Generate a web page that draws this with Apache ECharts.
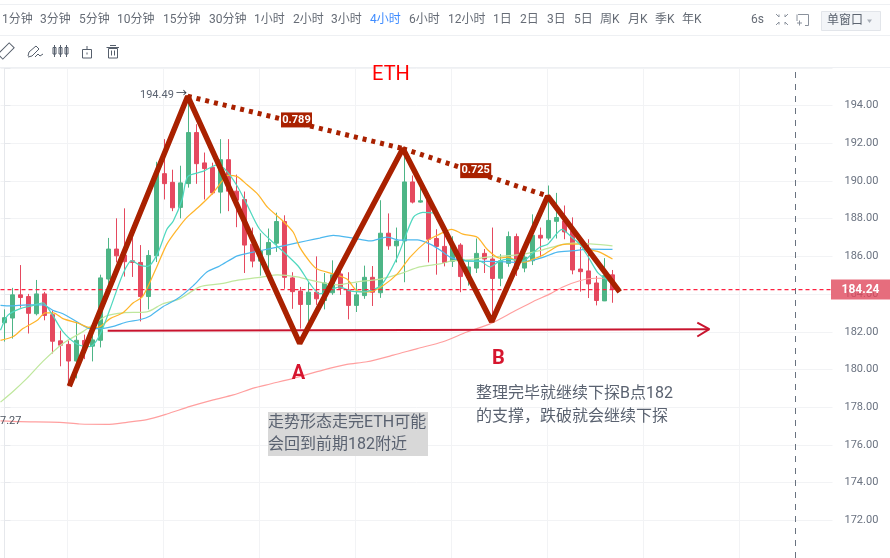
<!DOCTYPE html>
<html>
<head>
<meta charset="utf-8">
<style>html,body{margin:0;padding:0;background:#fff;overflow:hidden}#c{width:890px;height:558px}</style>
<script src="https://cdn.jsdelivr.net/npm/echarts@6/dist/echarts.min.js"></script>
</head>
<body>
<div id="c"></div>
<script>
// candles: [open, close, low, high]
const candles = [
[182.48,182.75,181.48,183.19],[182.73,183.96,181.64,184.33],[183.96,183.82,183.28,185.54],[183.87,182.98,181.91,184.01],
[182.96,184.01,182.87,184.75],[184.01,182.87,182.61,184.12],[182.91,181.50,180.85,183.13],[181.52,181.29,180.17,182.06],
[181.33,180.45,179.11,181.54],[180.45,181.55,179.53,182.55],[181.54,181.11,180.55,181.85],[181.24,181.57,180.43,182.33],
[181.55,184.86,181.17,185.03],[184.80,186.39,184.54,186.98],[186.39,186.03,185.68,188.02],[186.07,185.72,184.93,188.55],
[185.77,185.68,184.91,187.07],[185.68,183.87,182.55,186.60],[183.87,186.05,183.19,186.33],[186.03,190.39,185.70,191.02],
[190.39,189.86,189.02,192.22],[189.93,188.58,188.40,190.60],[188.60,189.90,188.02,190.81],[189.86,192.57,189.65,194.49],
[192.57,190.92,189.85,193.01],[190.96,190.66,189.02,191.51],[190.72,189.37,189.28,190.97],[189.41,191.13,188.28,192.22],
[191.13,189.46,188.40,192.22],[189.46,188.98,187.55,190.34],[189.02,186.60,185.12,189.44],[186.65,185.75,185.42,187.53],
[185.75,186.28,184.98,187.23],[186.09,186.74,184.71,187.48],[186.70,187.85,186.24,188.32],[187.85,184.89,184.28,188.18],
[184.86,184.13,183.22,185.16],[184.16,183.45,182.17,184.38],[183.45,184.10,182.54,184.63],[184.10,183.75,183.43,186.00],
[183.66,184.59,183.19,185.12],[184.07,185.02,183.96,185.79],[185.07,184.31,183.96,185.59],[184.22,183.40,182.66,185.16],
[183.40,183.96,183.05,184.59],[183.92,184.89,183.75,185.51],[184.89,184.10,183.37,185.49],[184.07,187.23,183.80,188.98],
[187.23,186.56,186.35,188.28],[186.56,186.82,185.68,187.53],[186.82,189.95,184.63,191.57],[189.95,188.88,188.81,190.29],
[188.88,188.95,188.85,189.92],[188.97,186.91,185.68,189.18],[186.95,186.53,185.03,187.44],[186.53,185.68,185.47,187.28],
[185.74,186.56,185.44,187.07],[186.60,184.93,184.10,186.70],[184.89,185.44,184.45,185.77],[185.38,186.16,185.12,186.95],
[186.16,185.86,185.12,186.39],[185.86,184.83,182.48,187.53],[184.84,185.77,184.42,186.12],[185.63,187.05,185.45,187.32],
[187.05,185.33,184.96,187.21],[185.38,185.96,185.16,186.23],[185.77,187.12,185.54,188.23],[187.12,186.97,185.95,187.53],
[186.97,187.91,186.86,189.76],[187.86,188.06,186.95,189.37],[187.88,187.30,186.91,188.70],[187.35,185.28,185.05,188.07],
[185.33,185.19,184.13,186.49],[185.23,184.54,183.79,186.91],[184.59,183.66,183.40,184.96],[183.64,184.98,183.63,185.91],
[185.02,184.24,183.54,185.28]
];
// bar numbers along the time axis, including the empty space to the right of the last bar
const categories = Array.from({length:104},(_,i)=>String(i));

const maFast = [[-0.5,182.08],[0.4,182.87],[1.9,183.22],[3.6,183.40],[4.8,183.54],[5.9,182.96],[7.3,182.01],[9.1,181.34],[10.7,181.22],[11.9,181.82],[13.2,183.22],[14.8,185.07],[15.9,185.77],[16.9,185.54],[17.9,185.47],[19.1,186.12],[20.3,187.44],[21.1,187.88],[22.2,189.02],[22.9,190.23],[24.8,190.51],[26.7,190.87],[27.8,190.51],[29.1,189.72],[30.3,188.76],[31.9,187.44],[34.1,186.54],[36.7,185.49],[38.2,184.54],[39.4,184.01],[41.1,184.28],[41.9,184.38],[43.2,184.17],[44.8,184.12],[47,184.44],[49.1,185.96],[51.1,188.07],[52.3,188.34],[54.1,188.23],[55.3,187.33],[56.9,186.02],[57.8,185.75],[59.4,185.75],[60.7,185.44],[61.9,185.75],[62.9,185.86],[64.8,185.75],[65.9,186.12],[66.9,186.49],[67.9,186.65],[69.7,187.44],[70.9,187.02],[71.9,186.65],[72.9,186.02],[74.1,185.17],[74.8,184.91],[76,184.54]];
const maOrange = [[-0.5,181.55],[1.1,181.75],[2.3,182.17],[4.1,182.61],[5.1,183.01],[6.1,183.01],[7.3,182.70],[9.1,182.47],[10.7,182.22],[11.9,182.27],[13.2,182.70],[14.8,183.01],[16.1,183.54],[17.2,183.84],[17.9,184.38],[19.1,185.51],[20.3,186.65],[21.6,187.44],[22.8,188.07],[24.4,188.67],[26.1,189.39],[27.2,189.99],[27.9,190.30],[29.1,190.23],[30.3,189.81],[31.7,189.28],[32.9,188.60],[34.8,187.88],[36.1,187.28],[36.9,186.49],[38.2,185.70],[39.1,185.33],[41.1,185.07],[42.8,184.80],[44.1,184.17],[45.7,184.12],[47.3,184.44],[49.1,185.07],[50.7,185.96],[52.8,186.81],[54.1,187.12],[55.9,187.44],[57.3,187.18],[59.1,187.02],[60.3,186.39],[61.9,185.91],[62.9,185.96],[64.1,185.75],[65.1,185.70],[66.1,185.86],[67.3,186.07],[69.1,186.54],[70.3,186.65],[71.9,186.65],[72.9,186.39],[74.4,186.23],[76,185.86]];
const maBlue = [[-0.5,183.40],[0.7,183.37],[2.8,183.43],[4.8,183.43],[6.1,183.13],[7.3,182.96],[9.1,182.52],[10.7,182.17],[11.9,182.17],[13.6,182.29],[15.3,182.52],[16.9,182.64],[18.2,182.84],[19.8,183.33],[21.6,183.75],[23.6,184.45],[25.3,185.17],[26.9,185.49],[29.1,186.03],[31.1,186.23],[33.2,186.41],[35.3,186.60],[37.8,186.83],[39.4,186.97],[41.1,187.12],[43.6,186.97],[45.7,186.82],[47.8,187.02],[49.4,186.86],[51.6,186.88],[53.2,186.65],[54.4,186.35],[55.7,185.96],[57.3,185.77],[61.9,185.72],[64.1,185.68],[65.7,185.77],[67.3,185.95],[69.1,186.23],[71.1,186.30],[73.2,186.39],[76,186.37]];
const maGreen = [[-0.5,178.27],[1.1,178.85],[2.8,179.53],[4.8,180.43],[7.3,181.38],[9.8,182.01],[11.6,182.54],[12.8,182.85],[14.8,183.01],[17.8,183.06],[19.8,183.49],[21.9,183.75],[24.4,184.38],[26.9,184.54],[29.4,184.75],[32.3,184.91],[34.1,185.02],[36.6,184.91],[39.1,184.66],[41.6,184.49],[44.1,184.65],[47,184.80],[49.4,185.07],[51.9,185.44],[54.4,185.60],[56.1,185.77],[57.8,185.81],[60.3,185.96],[61.9,186.00],[64.8,186.12],[67.3,186.35],[69.4,186.60],[71.1,186.70],[73.6,186.65],[76,186.56]];
const maPink = [[-0.5,177.27],[1.9,177.23],[6.9,177.20],[9.4,177.11],[12.8,177.09],[15.3,177.20],[17.8,177.34],[20.3,177.64],[23.2,178.04],[26.1,178.39],[28.6,178.65],[31.1,179.01],[33.2,179.23],[36.1,179.53],[39.8,179.97],[42.8,180.27],[45.3,180.41],[48.6,180.76],[51.6,181.11],[54.8,181.47],[57.8,181.99],[60.9,182.46],[63.6,183.06],[66.1,183.61],[68.2,184.01],[69.8,184.38],[71.9,184.71],[73.8,184.84],[76,184.84]];

const zigzag = [[8.1,179.11],[22.9,194.50],[36.9,181.38],[49.8,191.72],[60.9,182.54],[67.9,189.20],[76.9,184.12]];
const trendA = [[22.9,194.50],[49.8,191.72]];
const trendB = [[49.8,191.72],[67.9,189.20]];
const ratioValues = [[36.5,193.24,'0.789'],[58.9,190.55,'0.725']];
const supportLine = [[12.9,182.06],[88.1,182.14]];
const supportHead = [[86.6,182.49],[88.1,182.14],[86.6,181.75]];

const lastPrice = 184.24;
const priceLine = [[-0.5,184.24],[103.5,184.24]];
const crosshairBar = 98.85;
const gridBars = [7.9,19.9,31.9,43.9,55.9,67.9,79.9,91.9];
const yTickMin = 172, yTickMax = 194;

const periods = ['1分钟','3分钟','5分钟','10分钟','15分钟','30分钟','1小时','2小时','3小时','4小时','6小时','12小时','1日','2日','3日','5日','周K','月K','季K','年K','6s'];
const periodX = [2,40,79,117,163,209,254,293,331,370,409,448,493,520,547,574,600,628,655,682,751];
const activePeriod = '4小时';

const TEXT = '#666c76', RULE = '#eef0f3', DARK = '#a92100';
const FONT = 'Roboto, "Noto Sans CJK SC", sans-serif';
const icon = '#565f6c';

const graphic = [];
const addLine = (x1,y1,x2,y2,stroke,w) => graphic.push({type:'line',silent:true,z:50,shape:{x1,y1,x2,y2},style:{stroke:stroke,lineWidth:w||1,fill:null}});
const addRect = (x,y,width,height,stroke,fill) => graphic.push({type:'rect',silent:true,z:50,shape:{x,y,width,height},style:{stroke:stroke||null,fill:fill||null,lineWidth:1}});
const addText = (x,y,text,opt) => graphic.push({type:'text',silent:true,z:60,x,y,style:Object.assign({text,font:'12px '+FONT,fill:TEXT,textVerticalAlign:'middle',verticalAlign:'middle'},opt||{})});

addLine(0,4.5,890,4.5,RULE);
addLine(0,35.5,890,35.5,RULE);
addLine(0,67.5,890,67.5,RULE);
periods.forEach((p,i)=>addText(periodX[i],19.5,p,{fill:p===activePeriod?'#3f8cff':TEXT}));

// toolbar icons
graphic.push({type:'rect',silent:true,z:50,x:6,y:51,rotation:Math.PI/4,originX:0,originY:0,shape:{x:-8,y:-3.5,width:16,height:7},style:{stroke:icon,fill:null}});
graphic.push({type:'polyline',silent:true,z:50,shape:{points:[[28,56],[29,52],[36,46],[39,49],[32,56],[28,57]]},style:{stroke:icon,fill:null}});
graphic.push({type:'polyline',silent:true,z:50,shape:{points:[[35,57],[38,54],[40,56],[43,54]]},style:{stroke:icon,fill:null}});
[54.5,60.5,66.5].forEach(x=>{addRect(x-1.5,47.5,3,6.5,icon);addLine(x,45,x,57,icon);});
addRect(82.5,49.5,9,8.5,icon);addLine(87,46,87,50,icon);addLine(87,52.5,87,54.5,icon);
addRect(108.5,48.5,9,9.5,icon);addLine(106.5,47.5,119,47.5,icon);addLine(110,45.5,116,45.5,icon);addLine(111.5,50.5,111.5,55.5,icon);addLine(114.5,50.5,114.5,55.5,icon);
// window icons
const ic2='#8a919c';
[[776,14,1,1],[788,14,-1,1],[776,25,1,-1],[788,25,-1,-1]].forEach(a=>{addLine(a[0],a[1],a[0]+a[2]*3,a[1]+a[3]*3,ic2);addLine(a[0]+a[2]*3,a[1]+a[3]*3,a[0]+a[2]*3,a[1]+a[3]*0.5,ic2);});
graphic.push({type:'polyline',silent:true,z:50,shape:{points:[[798,14.5],[808.5,14.5],[808.5,25.5],[805,25.5]]},style:{stroke:ic2,fill:null}});
addLine(797,21,797,14.5,ic2);addLine(797,23,802,23,ic2);addLine(799.5,20.5,799.5,25.5,ic2);
addRect(821.5,11.5,59,19,'#e2e5ea','#f3f5f8');
addText(827,21,'单窗口',{fill:'#5c6470'});
graphic.push({type:'polygon',silent:true,z:60,shape:{points:[[867,19.5],[872,19.5],[869.5,23]]},style:{fill:'#a9afb8'}});

// annotations
addText(391,75,'ETH',{font:'20px '+FONT,fill:'#ff0000',textAlign:'center',align:'center'});
addText(298.5,374,'A',{font:'bold 20px '+FONT,fill:'#d6152e',textAlign:'center',align:'center'});
addText(498.5,359,'B',{font:'bold 20px '+FONT,fill:'#d6152e',textAlign:'center',align:'center'});
addText(140,95,'194.49',{fill:'#5a6270',font:'11px '+FONT});
addText(176,94.5,'→',{fill:'#2f3845',font:'11px '+FONT});
addText(0,421,'7.27',{fill:'#4d5560',font:'11px '+FONT});
addRect(268,412,160,44,null,'#d8d8d8');
const anno = '#5a6270', annoFont = '16px '+FONT;
addText(268,422.5,'走势形态走完ETH可能',{font:annoFont,fill:anno});
addText(268,445,'会回到前期182附近',{font:annoFont,fill:anno});
addText(476,393.5,'整理完毕就继续下探B点182',{font:annoFont,fill:anno});
addText(476,416.5,'的支撑，跌破就会继续下探',{font:annoFont,fill:anno});

const maSeries = (name,data,color,w) => ({name,type:'line',xAxisIndex:1,data,showSymbol:false,smooth:0.25,z:3,silent:true,lineStyle:{color,width:w||1.25}});

const option = {
  animation:false,
  backgroundColor:'#ffffff',
  grid:{left:0.5,top:67.9,width:832,height:493.3,show:false},
  xAxis:[
    {type:'category',data:categories,boundaryGap:true,show:false},
    {type:'value',min:-0.5,max:103.5,show:false}
  ],
  yAxis:{
    type:'value',position:'right',min:170,max:196,interval:2,scale:true,
    axisLine:{show:true,lineStyle:{color:'#e6e8ec'}},
    axisTick:{show:true,length:6,lineStyle:{color:'#e6e8ec'}},
    splitLine:{show:true,lineStyle:{color:'#f2f3f5',width:1}},
    axisLabel:{margin:12,color:'#6a7280',fontSize:11,fontFamily:'Roboto',
      formatter:v=>(v>=yTickMin&&v<=yTickMax)?v.toFixed(2):''}
  },
  graphic:graphic,
  series:[
    {name:'gridlines',type:'line',xAxisIndex:1,data:[],z:0,silent:true,
      markLine:{silent:true,symbol:'none',z:0,label:{show:false},
        lineStyle:{color:'#f2f3f5',type:'solid',width:1},
        data:gridBars.map(b=>({xAxis:b}))}},
    {name:'ETH',type:'candlestick',data:candles,barWidth:5,z:2,silent:true,
      itemStyle:{color:'#4db586',color0:'#e5495f',borderColor:'#4db586',borderColor0:'#e5495f',borderWidth:1}},
    maSeries('maPink',maPink,'#ff9f9f',1.2),
    maSeries('maGreen',maGreen,'#bfe79d'),
    maSeries('maBlue',maBlue,'#4db8ee'),
    maSeries('maOrange',maOrange,'#ffb52b'),
    maSeries('maFast',maFast,'#4fd8bf'),
    {name:'crosshair',type:'line',xAxisIndex:1,data:[],z:4,silent:true,
      markLine:{silent:true,symbol:'none',z:4,label:{show:false},
        lineStyle:{color:'#69727f',type:[6,6],width:1},
        data:[{xAxis:crosshairBar}]}},
    {name:'price',type:'line',xAxisIndex:1,data:priceLine,showSymbol:false,z:4,silent:true,
      itemStyle:{color:'#ff2040'},
      lineStyle:{color:'#ff2040',width:1.4,type:[4,3]},
      markLine:{silent:true,symbol:'none',z:6,
        lineStyle:{color:'rgba(0,0,0,0)',width:1},
        label:{show:true,position:'end',distance:28,formatter:()=>lastPrice.toFixed(2),
          color:'#fff',fontWeight:'bold',fontSize:12,fontFamily:'Roboto',
          backgroundColor:'rgba(224,72,92,0.8)',width:59,height:20,lineHeight:20,align:'center'},
        data:[{yAxis:lastPrice}]}},
    {name:'support',type:'line',xAxisIndex:1,data:supportLine,showSymbol:false,z:5,silent:true,lineStyle:{color:'#c8142e',width:2}},
    {name:'supportHead',type:'line',xAxisIndex:1,data:supportHead,showSymbol:false,z:5,silent:true,lineStyle:{color:'#c8142e',width:2}},
    {name:'trendA',type:'line',xAxisIndex:1,data:trendA,showSymbol:false,z:5,silent:true,lineStyle:{color:DARK,width:5,type:[4,5]}},
    {name:'trendB',type:'line',xAxisIndex:1,data:trendB,showSymbol:false,z:5,silent:true,lineStyle:{color:DARK,width:5,type:[4,5]}},
    {name:'zigzag',type:'line',xAxisIndex:1,data:zigzag,showSymbol:false,z:6,silent:true,lineStyle:{color:DARK,width:5.5,join:'bevel',cap:'butt'}},
    {name:'ratios',type:'scatter',xAxisIndex:1,data:ratioValues,symbol:'rect',symbolSize:[31,15],z:7,silent:true,
      itemStyle:{color:DARK,opacity:1},
      label:{show:true,position:'inside',color:'#fff',fontWeight:'bold',fontSize:11,fontFamily:'Roboto',formatter:p=>p.data[2]}}
  ]
};
const chart = echarts.init(document.getElementById('c'),null,{renderer:'canvas'});
chart.setOption(option);
</script>
</body>
</html>
